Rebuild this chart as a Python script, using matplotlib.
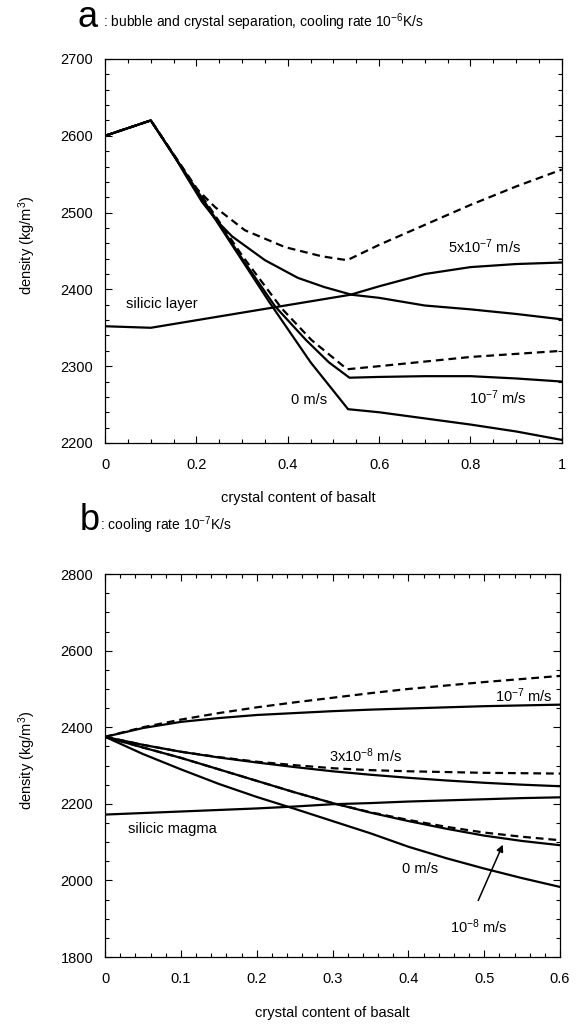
import numpy as np
import matplotlib
matplotlib.use('Agg')
import matplotlib.pyplot as plt
from matplotlib.ticker import MultipleLocator

plt.rcParams['font.family'] = ['Liberation Sans', 'DejaVu Sans']
plt.rcParams['mathtext.default'] = 'regular'

##### DATA: panel a (cooling rate 1e-6 K/s) #####
xa_dash_hi = [0, 0.1, 0.15, 0.197, 0.241, 0.306, 0.394, 0.475, 0.53, 0.6, 0.7, 0.8, 0.9, 1.0]
ya_dash_hi = [2600, 2620, 2575, 2533, 2507, 2477, 2455, 2443, 2438, 2458, 2484, 2510, 2534, 2556]

xa_solid_hi = [0, 0.1, 0.15, 0.18, 0.212, 0.245, 0.278, 0.35, 0.422, 0.48, 0.54, 0.6, 0.7, 0.8, 0.9, 1.0]
ya_solid_hi = [2600, 2620, 2575, 2545, 2514, 2489, 2469, 2438, 2415, 2403, 2393, 2389, 2379, 2374, 2368, 2361]

xa_dash_mid = [0, 0.1, 0.3, 0.387, 0.452, 0.53, 0.6, 0.7, 0.8, 0.9, 1.0]
ya_dash_mid = [2600, 2620, 2444, 2375, 2334, 2296, 2300, 2306, 2312, 2316, 2320]

xa_solid_mid = [0, 0.1, 0.3, 0.372, 0.44, 0.49, 0.535, 0.6, 0.7, 0.8, 0.9, 1.0]
ya_solid_mid = [2600, 2620, 2440, 2378, 2334, 2305, 2285, 2286, 2287, 2287, 2284, 2280]

xa_zero = [0, 0.1, 0.36, 0.45, 0.532, 0.6, 0.7, 0.8, 0.9, 1.0]
ya_zero = [2600, 2620, 2383, 2305, 2244, 2240, 2232, 2224, 2215, 2204]

xa_silicic = [0, 0.1, 0.537, 0.6, 0.7, 0.8, 0.9, 1.0]
ya_silicic = [2352, 2350, 2393, 2404, 2420, 2429, 2433, 2435]

##### DATA: panel b (cooling rate 1e-7 K/s) #####
xb = [0, 0.05, 0.1, 0.15, 0.2, 0.25, 0.3, 0.35, 0.4, 0.45, 0.5, 0.55, 0.6]
yb_dash_1e7 = [2375, 2400, 2420, 2437, 2452, 2465, 2477, 2489, 2500, 2509, 2518, 2526, 2534]
yb_solid_1e7 = [2375, 2398, 2414, 2424, 2432, 2437, 2442, 2446, 2449, 2452, 2455, 2457, 2459]
yb_dash_3e8 = [2375, 2354, 2336, 2322, 2310, 2301, 2293, 2288, 2285, 2283, 2281, 2280, 2279]
yb_solid_3e8 = [2375, 2354, 2336, 2321, 2308, 2296, 2285, 2276, 2268, 2261, 2255, 2250, 2246]
yb_dash_1e8 = [2375, 2347, 2320, 2290, 2260, 2230, 2202, 2178, 2158, 2140, 2125, 2114, 2105]
yb_solid_1e8 = [2375, 2347, 2320, 2290, 2260, 2230, 2202, 2177, 2155, 2135, 2117, 2103, 2092]
yb_zero = [2375, 2330, 2290, 2252, 2218, 2187, 2155, 2123, 2088, 2058, 2031, 2006, 1983]
yb_silicic = [2172, 2176, 2180, 2184, 2188, 2193, 2199, 2202, 2206, 2209, 2212, 2215, 2217]

LW = 1.6
DASH = (0, (3.5, 2.2))
FS = 10.5


def style_axes(ax):
    ax.tick_params(which='both', direction='in', top=True, right=True, labelsize=FS)
    ax.tick_params(which='major', length=5, width=0.8)
    ax.tick_params(which='minor', length=3, width=0.8)
    ax.tick_params(axis='y', pad=8.5)
    ax.tick_params(axis='x', pad=11)
    for s in ax.spines.values():
        s.set_linewidth(0.9)


fig = plt.figure(figsize=(5.84, 10.24), dpi=100)

############# PANEL A #############
ax1 = fig.add_axes([0.180, 0.5674, 0.782, 0.375])
ax1.plot(xa_dash_hi, ya_dash_hi, 'k', lw=LW, linestyle=DASH)
ax1.plot(xa_solid_hi, ya_solid_hi, 'k-', lw=LW)
ax1.plot(xa_dash_mid, ya_dash_mid, 'k', lw=LW, linestyle=DASH)
ax1.plot(xa_solid_mid, ya_solid_mid, 'k-', lw=LW)
ax1.plot(xa_zero, ya_zero, 'k-', lw=LW)
ax1.plot(xa_silicic, ya_silicic, 'k-', lw=LW)
ax1.set_xlim(0, 1)
ax1.set_ylim(2200, 2700)
ax1.set_xticks([0, 0.2, 0.4, 0.6, 0.8, 1.0])
ax1.set_xticklabels(['0', '0.2', '0.4', '0.6', '0.8', '1'])
ax1.xaxis.set_minor_locator(MultipleLocator(0.05))
ax1.yaxis.set_major_locator(MultipleLocator(100))
ax1.yaxis.set_minor_locator(MultipleLocator(20))
style_axes(ax1)
ax1.text(0.045, 2381, 'silicic layer', fontsize=FS, va='center')
ax1.text(0.83, 2455, r'5x10$^{-7}$ m/s', fontsize=FS, va='center', ha='center')
ax1.text(0.86, 2259, r'10$^{-7}$ m/s', fontsize=FS, va='center', ha='center')
ax1.text(0.447, 2256, '0 m/s', fontsize=FS, va='center', ha='center')

fig.text(0.133, 0.9736, 'a', fontsize=26, va='baseline')
fig.text(0.176, 0.9736, r': bubble and crystal separation, cooling rate 10$^{-6}$K/s',
         fontsize=10, va='baseline')
fig.text(0.51, 1 - 498 / 1024, 'crystal content of basalt', fontsize=FS, ha='center', va='center')
fig.text(0.046, 1 - 245 / 1024, 'density (kg/m$^{3}$)', fontsize=FS, rotation=90,
         ha='center', va='center')

############# PANEL B #############
ax2 = fig.add_axes([0.180, 0.0654, 0.779, 0.374])
ax2.plot(xb, yb_dash_1e7, 'k', lw=LW, linestyle=DASH)
ax2.plot(xb, yb_solid_1e7, 'k-', lw=LW)
ax2.plot(xb, yb_dash_3e8, 'k', lw=LW, linestyle=DASH)
ax2.plot(xb, yb_solid_3e8, 'k-', lw=LW)
ax2.plot(xb, yb_dash_1e8, 'k', lw=LW, linestyle=DASH)
ax2.plot(xb, yb_solid_1e8, 'k-', lw=LW)
ax2.plot(xb, yb_zero, 'k-', lw=LW)
ax2.plot(xb, yb_silicic, 'k-', lw=LW)
ax2.set_xlim(0, 0.6)
ax2.set_ylim(1800, 2800)
ax2.set_xticks([0, 0.1, 0.2, 0.3, 0.4, 0.5, 0.6])
ax2.set_xticklabels(['0', '0.1', '0.2', '0.3', '0.4', '0.5', '0.6'])
ax2.xaxis.set_minor_locator(MultipleLocator(0.02))
ax2.yaxis.set_major_locator(MultipleLocator(200))
ax2.yaxis.set_minor_locator(MultipleLocator(50))
style_axes(ax2)
ax2.text(0.59, 2482, r'10$^{-7}$ m/s', fontsize=FS, va='center', ha='right')
ax2.text(0.343, 2325, r'3x10$^{-8}$ m/s', fontsize=FS, va='center', ha='center')
ax2.text(0.03, 2133, 'silicic magma', fontsize=FS, va='center')
ax2.text(0.415, 2031, '0 m/s', fontsize=FS, va='center', ha='center')
ax2.text(0.493, 1878, r'10$^{-8}$ m/s', fontsize=FS, va='center', ha='center')
ax2.annotate('', xy=(0.526, 2100), xytext=(0.4906, 1941),
             arrowprops=dict(arrowstyle='-|>', color='k', lw=1.1, mutation_scale=10))

fig.text(0.137, 1 - 530 / 1024, 'b', fontsize=26, va='baseline')
fig.text(0.171, 1 - 530 / 1024, r': cooling rate 10$^{-7}$K/s', fontsize=10, va='baseline')
fig.text(0.569, 1 - 1013 / 1024, 'crystal content of basalt', fontsize=FS, ha='center', va='center')
fig.text(0.046, 1 - 760 / 1024, 'density (kg/m$^{3}$)', fontsize=FS, rotation=90,
         ha='center', va='center')

plt.savefig('out.png', dpi=100)
